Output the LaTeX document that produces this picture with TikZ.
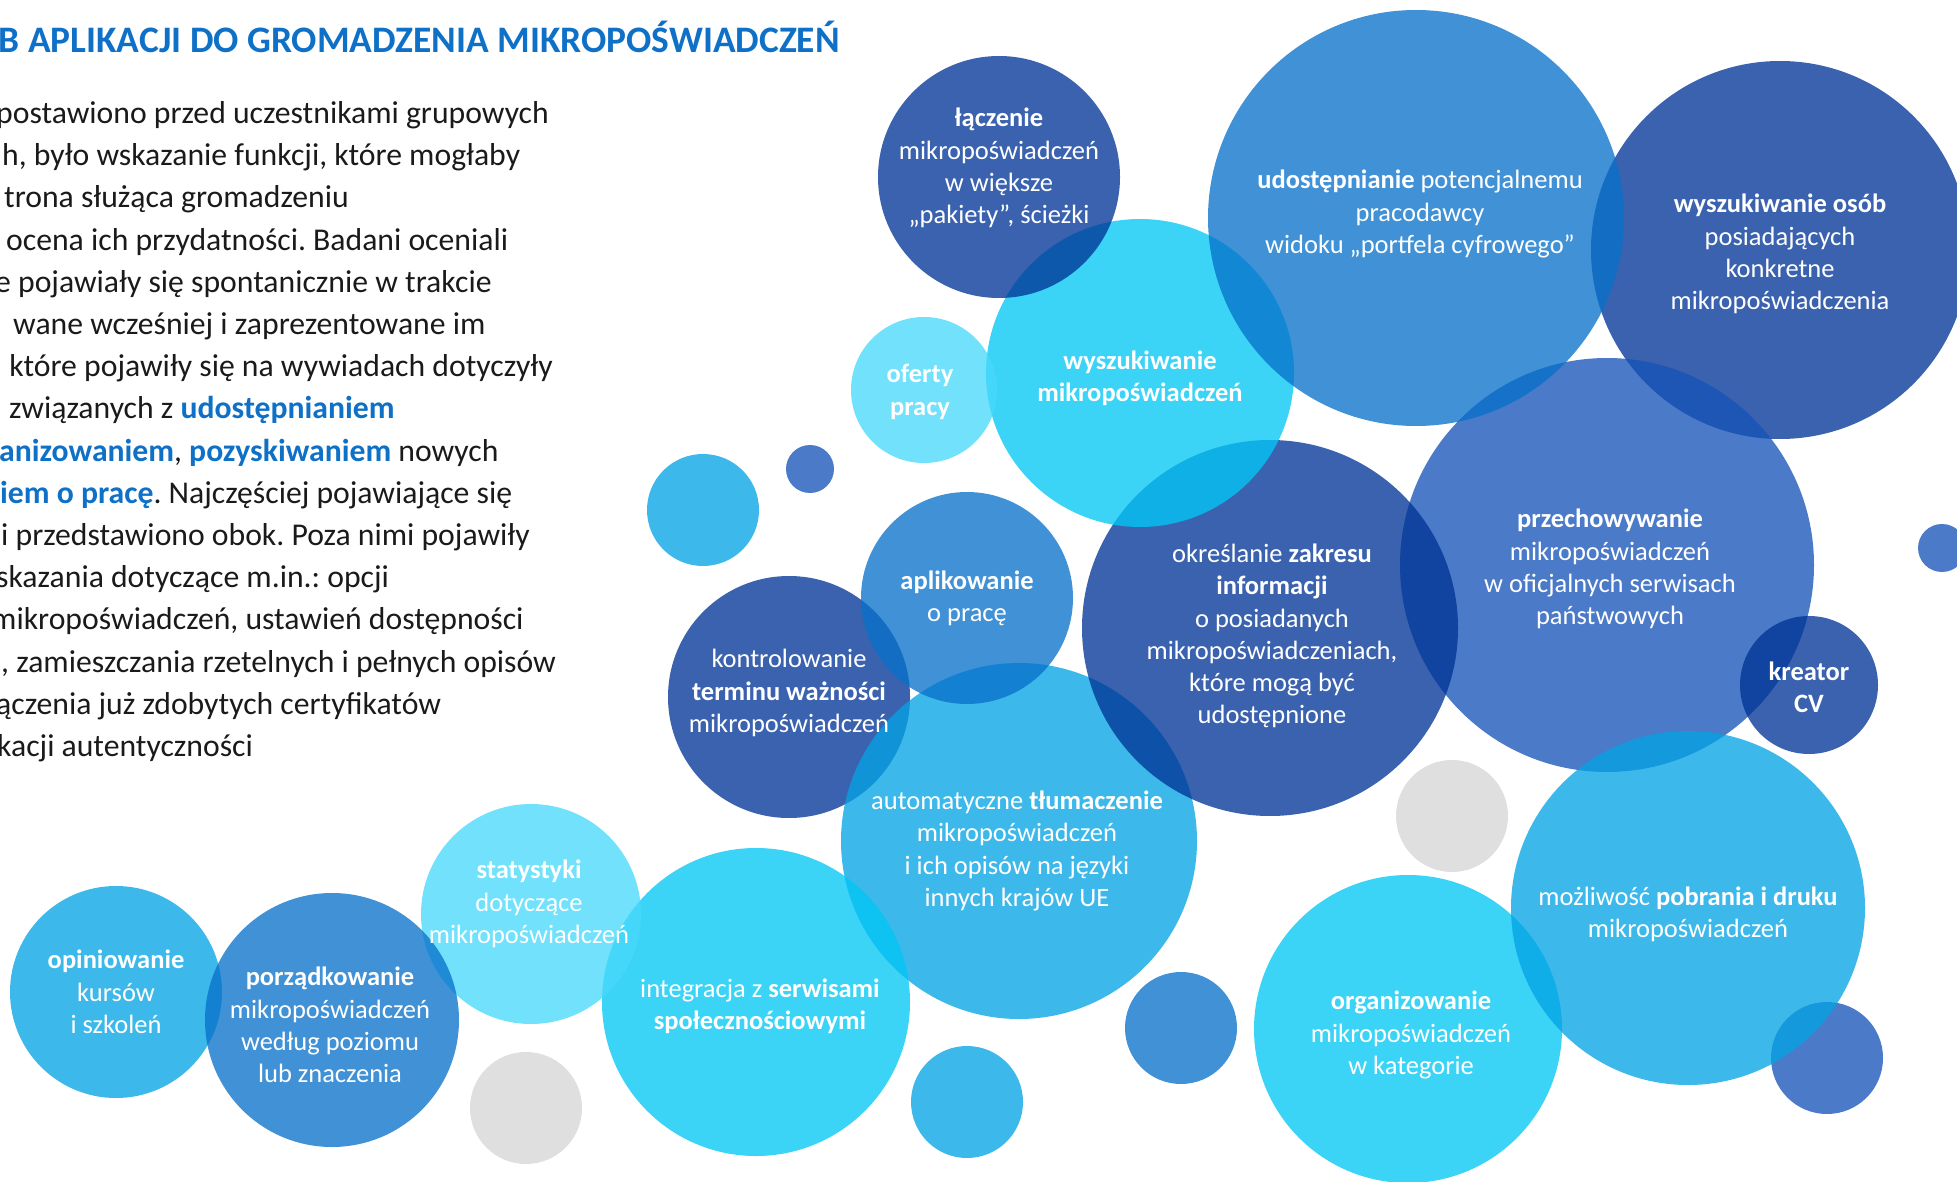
\documentclass[tikz,border=0pt]{standalone}
\usepackage{fontspec}
\setmainfont{Carlito}

\definecolor{navyc}{RGB}{0,51,149}
\definecolor{medc}{RGB}{6,112,202}
\definecolor{peric}{RGB}{20,82,184}
\definecolor{skyc}{RGB}{3,163,228}
\definecolor{cyanc}{RGB}{0,199,245}
\definecolor{lightc}{RGB}{72,217,251}
\definecolor{greyc}{RGB}{213,213,213}
\definecolor{headblue}{RGB}{14,112,198}
\definecolor{bodytext}{RGB}{26,26,26}

\newcommand\bodyfont{\fontsize{31.7}{42.2}\selectfont\frenchspacing}
\newcommand\bubfont{\fontsize{26.5}{32.3}\selectfont}
\newcommand\headfont{\fontsize{37.4}{44}\selectfont\bfseries}
\newcommand\hl[1]{\textcolor{headblue}{\textbf{#1}}}

\tikzset{
    bub/.style 2 args={circle, draw=none, fill=#1, fill opacity=0.77,
        inner sep=0pt, minimum size={2*#2}},
    lbl/.style={text=white, align=center, font=\bubfont, inner sep=0pt},
    bodyline/.style={anchor=base west, font=\bodyfont, text=bodytext, inner sep=0pt}
}

\begin{document}
\begin{tikzpicture}[x=1pt, y=-1pt]
    \useasboundingbox (0,0) rectangle (1957,1182);
    \clip (0,0) rectangle (1957,1182);

    % text on the left
    \node[anchor=base east, font=\headfont, text=headblue, inner sep=0pt] (title) at (840,53)
        {B APLIKACJI DO GROMADZENIA MIKROPOŚWIADCZEŃ};
    \foreach \xs/\txt [count=\i] in {
        -4/{postawiono przed uczestnikami grupowych},
        2/{h, było wskazanie funkcji, które mogłaby},
        4/{trona służąca gromadzeniu},
        6/{ocena ich przydatności. Badani oceniali},
        -5/{e pojawiały się spontanicznie w trakcie},
        13/{wane wcześniej i zaprezentowane im},
        -6/{, które pojawiły się na wywiadach dotyczyły},
        9/{związanych z \hl{udostępnianiem}},
        -1/{\hl{anizowaniem}, \hl{pozyskiwaniem} nowych},
        0/{\hl{iem o pracę}. Najczęściej pojawiające się},
        1/{i przedstawiono obok. Poza nimi pojawiły},
        -4/{skazania dotyczące m.in.: opcji},
        -9/{mikropoświadczeń, ustawień dostępności},
        1/{, zamieszczania rzetelnych i pełnych opisów},
        -4/{ączenia już zdobytych certyfikatów},
        -3/{kacji autentyczności}}
        \node[bodyline] (line\i) at (\xs, {123.5+42.2*(\i-1)}) {\txt};

    % bubbles
    \node[bub={navyc}{189}] (osob) at (1780,250) {};
    \node[bub={peric}{207}] (przech) at (1607,565) {};
    \node[bub={navyc}{69}] (kreator) at (1809,685) {};
    \node[bub={navyc}{121}] (kontrol) at (789,697) {};
    \node[bub={skyc}{178}] (automat) at (1019,841) {};
    \node[bub={navyc}{188}] (okresl) at (1270,628) {};
    \node[bub={cyanc}{154}] (wyszmik) at (1140,373) {};
    \node[bub={navyc}{121}] (lacz) at (999,177) {};
    \node[bub={medc}{208}] (udost) at (1416,218) {};
    \node[bub={medc}{106}] (aplik) at (967,598) {};
    \node[bub={cyanc}{154}] (integr) at (756,1002) {};
    \node[bub={lightc}{110}] (statyst) at (531,914) {};
    \node[bub={skyc}{106}] (opin) at (116,992) {};
    \node[bub={medc}{127}] (porzadk) at (332,1020) {};
    \node[bub={peric}{56}] (dotd) at (1827,1058) {};
    \node[bub={cyanc}{154}] (organiz) at (1408,1029) {};
    \node[bub={skyc}{177}] (mozliw) at (1688,908) {};
    \node[bub={lightc}{73}] (oferty) at (924,390) {};
    \node[bub={skyc}{56}] (dota) at (703,510) {};
    \node[bub={peric}{24}] (dotb) at (810,469) {};
    \node[bub={peric}{24}] (dotc) at (1942,548) {};
    \node[bub={medc}{56}] (dote) at (1181,1028) {};
    \node[bub={skyc}{56}] (dotf) at (967,1102) {};
    \node[bub={greyc}{56}] (greya) at (1452,816) {};
    \node[bub={greyc}{56}] (greyb) at (526,1108) {};

    % labels
    \node[lbl, yshift=9pt] (tlacz) at (lacz) {\textbf{łączenie}\\mikropoświadczeń\\w większe\\„pakiety”, ścieżki};
    \node[lbl, xshift=4pt, yshift=4pt] (tudost) at (udost) {\textbf{udostępnianie} potencjalnemu\\pracodawcy\\widoku „portfela cyfrowego”};
    \node[lbl, yshift=-4pt] (tosob) at (osob) {\textbf{wyszukiwanie osób}\\posiadających\\konkretne\\mikropoświadczenia};
    \node[lbl, xshift=-4pt, yshift=-2pt] (toferty) at (oferty) {\textbf{oferty}\\\textbf{pracy}};
    \node[lbl, yshift=-5pt] (twyszmik) at (wyszmik) {\textbf{wyszukiwanie}\\\textbf{mikropoświadczeń}};
    \node[lbl] (taplik) at (aplik) {\textbf{aplikowanie}\\o pracę};
    \node[lbl, yshift=4pt] (tkontrol) at (kontrol) {kontrolowanie\\\textbf{terminu ważności}\\mikropoświadczeń};
    \node[lbl, xshift=2pt, yshift=-8pt] (tokresl) at (okresl) {określanie \textbf{zakresu}\\\textbf{informacji}\\o posiadanych\\mikropoświadczeniach,\\które mogą być\\udostępnione};
    \node[lbl, xshift=3pt, yshift=-4pt] (tprzech) at (przech) {\textbf{przechowywanie}\\mikropoświadczeń\\w oficjalnych serwisach\\państwowych};
    \node[lbl, yshift=-2pt] (tkreator) at (kreator) {\textbf{kreator}\\\textbf{CV}};
    \node[lbl, xshift=-2pt, yshift=-10pt] (tautomat) at (automat) {automatyczne \textbf{tłumaczenie}\\mikropoświadczeń\\i ich opisów na języki\\innych krajów UE};
    \node[lbl, yshift=-6pt] (tmozliw) at (mozliw) {możliwość \textbf{pobrania i druku}\\mikropoświadczeń};
    \node[lbl, xshift=3pt, yshift=-6pt] (torganiz) at (organiz) {\textbf{organizowanie}\\mikropoświadczeń\\w kategorie};
    \node[lbl, xshift=4pt, yshift=-4pt] (tintegr) at (integr) {integracja z \textbf{serwisami}\\\textbf{społecznościowymi}};
    \node[lbl, xshift=-2pt, yshift=10pt] (tstatyst) at (statyst) {\textbf{statystyki}\\dotyczące\\mikropoświadczeń};
    \node[lbl, xshift=-2pt, yshift=-5pt] (tporzadk) at (porzadk) {\textbf{porządkowanie}\\mikropoświadczeń\\według poziomu\\lub znaczenia};
    \node[lbl] (topin) at (opin) {\textbf{opiniowanie}\\kursów\\i szkoleń};
\end{tikzpicture}
\end{document}
